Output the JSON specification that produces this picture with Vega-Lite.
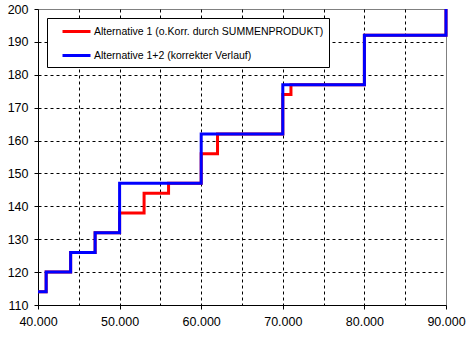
{
  "$schema": "https://vega.github.io/schema/vega-lite/v6.json",
  "width": 408,
  "height": 296,
  "autosize": {"type": "none"},
  "padding": {"left": 38, "top": 9, "right": 23, "bottom": 32},
  "background": "white",
  "config": {
    "view": {"stroke": "#808080", "strokeWidth": 1},
    "font": "Liberation Sans"
  },
  "data": {
    "values": [
      {"x": 40000, "y": 114, "series": "Alternative 1 (o.Korr. durch SUMMENPRODUKT)"},
      {"x": 41000, "y": 120, "series": "Alternative 1 (o.Korr. durch SUMMENPRODUKT)"},
      {"x": 44000, "y": 126, "series": "Alternative 1 (o.Korr. durch SUMMENPRODUKT)"},
      {"x": 47000, "y": 132, "series": "Alternative 1 (o.Korr. durch SUMMENPRODUKT)"},
      {"x": 50000, "y": 138, "series": "Alternative 1 (o.Korr. durch SUMMENPRODUKT)"},
      {"x": 53000, "y": 144, "series": "Alternative 1 (o.Korr. durch SUMMENPRODUKT)"},
      {"x": 56000, "y": 147, "series": "Alternative 1 (o.Korr. durch SUMMENPRODUKT)"},
      {"x": 60000, "y": 156, "series": "Alternative 1 (o.Korr. durch SUMMENPRODUKT)"},
      {"x": 62000, "y": 162, "series": "Alternative 1 (o.Korr. durch SUMMENPRODUKT)"},
      {"x": 70000, "y": 174, "series": "Alternative 1 (o.Korr. durch SUMMENPRODUKT)"},
      {"x": 71000, "y": 177, "series": "Alternative 1 (o.Korr. durch SUMMENPRODUKT)"},
      {"x": 80000, "y": 192, "series": "Alternative 1 (o.Korr. durch SUMMENPRODUKT)"},
      {"x": 90000, "y": 200, "series": "Alternative 1 (o.Korr. durch SUMMENPRODUKT)"},
      {"x": 40000, "y": 114, "series": "Alternative 1+2 (korrekter Verlauf)"},
      {"x": 41000, "y": 120, "series": "Alternative 1+2 (korrekter Verlauf)"},
      {"x": 44000, "y": 126, "series": "Alternative 1+2 (korrekter Verlauf)"},
      {"x": 47000, "y": 132, "series": "Alternative 1+2 (korrekter Verlauf)"},
      {"x": 50000, "y": 147, "series": "Alternative 1+2 (korrekter Verlauf)"},
      {"x": 60000, "y": 162, "series": "Alternative 1+2 (korrekter Verlauf)"},
      {"x": 70000, "y": 177, "series": "Alternative 1+2 (korrekter Verlauf)"},
      {"x": 80000, "y": 192, "series": "Alternative 1+2 (korrekter Verlauf)"},
      {"x": 90000, "y": 200, "series": "Alternative 1+2 (korrekter Verlauf)"}
    ]
  },
  "mark": {"type": "line", "interpolate": "step-after", "strokeWidth": 3, "strokeJoin": "miter", "strokeCap": "butt"},
  "encoding": {
    "x": {
      "field": "x", "type": "quantitative",
      "scale": {"domain": [40000, 90000], "nice": false, "zero": false},
      "axis": {
        "title": null,
        "values": [40000, 45000, 50000, 55000, 60000, 65000, 70000, 75000, 80000, 85000, 90000],
        "labelExpr": "datum.value % 10000 == 0 ? replace(format(datum.value, ','), ',', '.') : ''",
        "labelFlush": false,
        "labelOverlap": false,
        "labelFont": "Liberation Sans",
        "labelFontSize": 12.5,
        "labelColor": "black",
        "labelPadding": 6,
        "domainColor": "black",
        "domainWidth": 1,
        "tickColor": "black",
        "tickSize": 4,
        "tickOpacity": {"condition": {"test": "datum.value % 10000 != 0", "value": 0}, "value": 1},
        "grid": true,
        "gridColor": "black",
        "gridDash": [3, 3],
        "gridWidth": 1,
        "gridOpacity": {"condition": {"test": "datum.value == 40000 || datum.value == 90000", "value": 0}, "value": 1}
      }
    },
    "y": {
      "field": "y", "type": "quantitative",
      "scale": {"domain": [110, 200], "nice": false, "zero": false},
      "axis": {
        "title": null,
        "values": [110, 120, 130, 140, 150, 160, 170, 180, 190, 200],
        "labelFont": "Liberation Sans",
        "labelFontSize": 12.5,
        "labelColor": "black",
        "labelPadding": 6,
        "labelOverlap": false,
        "labelFlush": false,
        "domainColor": "black",
        "domainWidth": 1,
        "tickColor": "black",
        "tickSize": 4,
        "grid": true,
        "gridColor": "black",
        "gridDash": [3, 3],
        "gridWidth": 1,
        "gridOpacity": {"condition": {"test": "datum.value == 110 || datum.value == 200", "value": 0}, "value": 1}
      }
    },
    "color": {
      "field": "series", "type": "nominal",
      "scale": {
        "domain": ["Alternative 1 (o.Korr. durch SUMMENPRODUKT)", "Alternative 1+2 (korrekter Verlauf)"],
        "range": ["#ff0000", "#0000ff"]
      },
      "legend": {
        "title": null,
        "orient": "none",
        "legendX": 9,
        "legendY": 9,
        "strokeColor": "black",
        "fillColor": "white",
        "padding": 5,
        "symbolType": "M0.286,0H4.286",
        "symbolSize": 196,
        "symbolStrokeWidth": 3,
        "labelFont": "Liberation Sans",
        "labelFontSize": 10.5,
        "labelColor": "black",
        "labelOffset": 25,
        "labelLimit": 0,
        "rowPadding": 9
      }
    }
  }
}
